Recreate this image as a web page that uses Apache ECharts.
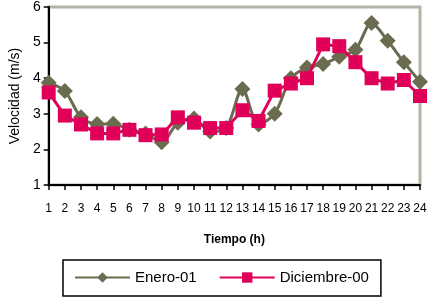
<!DOCTYPE html>
<html>
<head>
<meta charset="utf-8">
<script src="https://cdn.jsdelivr.net/npm/echarts@6/dist/echarts.min.js"></script>
<style>
  html, body { margin: 0; padding: 0; background: #fff; }
  #chart { width: 431px; height: 298px; }
</style>
</head>
<body>
<div id="chart"></div>
<script>
// hours of the day
const hours = ['1', '2', '3', '4', '5', '6', '7', '8', '9', '10', '11', '12',
  '13', '14', '15', '16', '17', '18', '19', '20', '21', '22', '23', '24']
// wind speed (m/s)
const enero01 = [3.87, 3.64, 2.9, 2.71, 2.72, 2.55, 2.45, 2.2, 2.75, 2.87, 2.5, 2.6,
  3.7, 2.7, 3.0, 4.0, 4.3, 4.4, 4.6, 4.8, 5.55, 5.05, 4.45, 3.9]
const diciembre00 = [3.6, 2.95, 2.7, 2.45, 2.45, 2.55, 2.4, 2.42, 2.9, 2.75, 2.6, 2.6,
  3.1, 2.8, 3.65, 3.85, 4.0, 4.95, 4.9, 4.45, 4.0, 3.85, 3.95, 3.5]

const chart = echarts.init(document.getElementById('chart'))
const font = 'Liberation Sans, Arial, sans-serif'

chart.setOption({
  backgroundColor: '#ffffff',
  animation: false,
  textStyle: { fontFamily: font },
  grid: {
    left: 45,
    right: 11,
    top: 7,
    bottom: 113,
    show: true,
    borderColor: '#b4b4a8',
    borderWidth: 3
  },
  legend: {
    left: 63,
    top: 260,
    padding: [10, 12, 11, 11],
    borderColor: '#000',
    borderWidth: 1.5,
    itemWidth: 55,
    itemHeight: 13,
    itemGap: 22,
    textStyle: { fontSize: 15, color: '#000', fontFamily: font },
    data: ['Enero-01', 'Diciembre-00']
  },
  xAxis: {
    type: 'category',
    boundaryGap: false,
    data: hours,
    name: 'Tiempo (h)',
    nameLocation: 'middle',
    nameGap: 49,
    nameTextStyle: { fontSize: 12, fontWeight: 'bold', color: '#000' },
    axisLine: { lineStyle: { color: '#000', width: 2 } },
    axisTick: { alignWithLabel: true, length: 5, lineStyle: { color: '#000', width: 1.5 } },
    axisLabel: { interval: 0, margin: 18, fontSize: 12, color: '#000' },
    splitLine: { show: false }
  },
  yAxis: {
    type: 'value',
    min: 1,
    max: 6,
    interval: 1,
    name: 'Velocidad (m/s)',
    nameLocation: 'middle',
    nameGap: 23,
    nameTextStyle: { fontSize: 14, color: '#000' },
    axisLine: { show: true, lineStyle: { color: '#000', width: 2 } },
    axisTick: { show: true, length: 5, lineStyle: { color: '#000', width: 1.5 } },
    axisLabel: { margin: 8, fontSize: 14, color: '#000' },
    splitLine: { show: false }
  },
  series: [
    {
      name: 'Enero-01',
      type: 'line',
      smooth: 0.3,
      data: enero01,
      symbol: 'diamond',
      symbolSize: 16,
      color: '#6b6b50',
      lineStyle: { width: 3, color: '#6b6b50' },
      itemStyle: { color: '#6b6b50' },
      z: 2
    },
    {
      name: 'Diciembre-00',
      type: 'line',
      data: diciembre00,
      symbol: 'rect',
      symbolSize: 14,
      color: '#e0005a',
      lineStyle: { width: 3, color: '#e0005a' },
      itemStyle: { color: '#e0005a' },
      z: 3
    }
  ]
})
</script>
</body>
</html>
